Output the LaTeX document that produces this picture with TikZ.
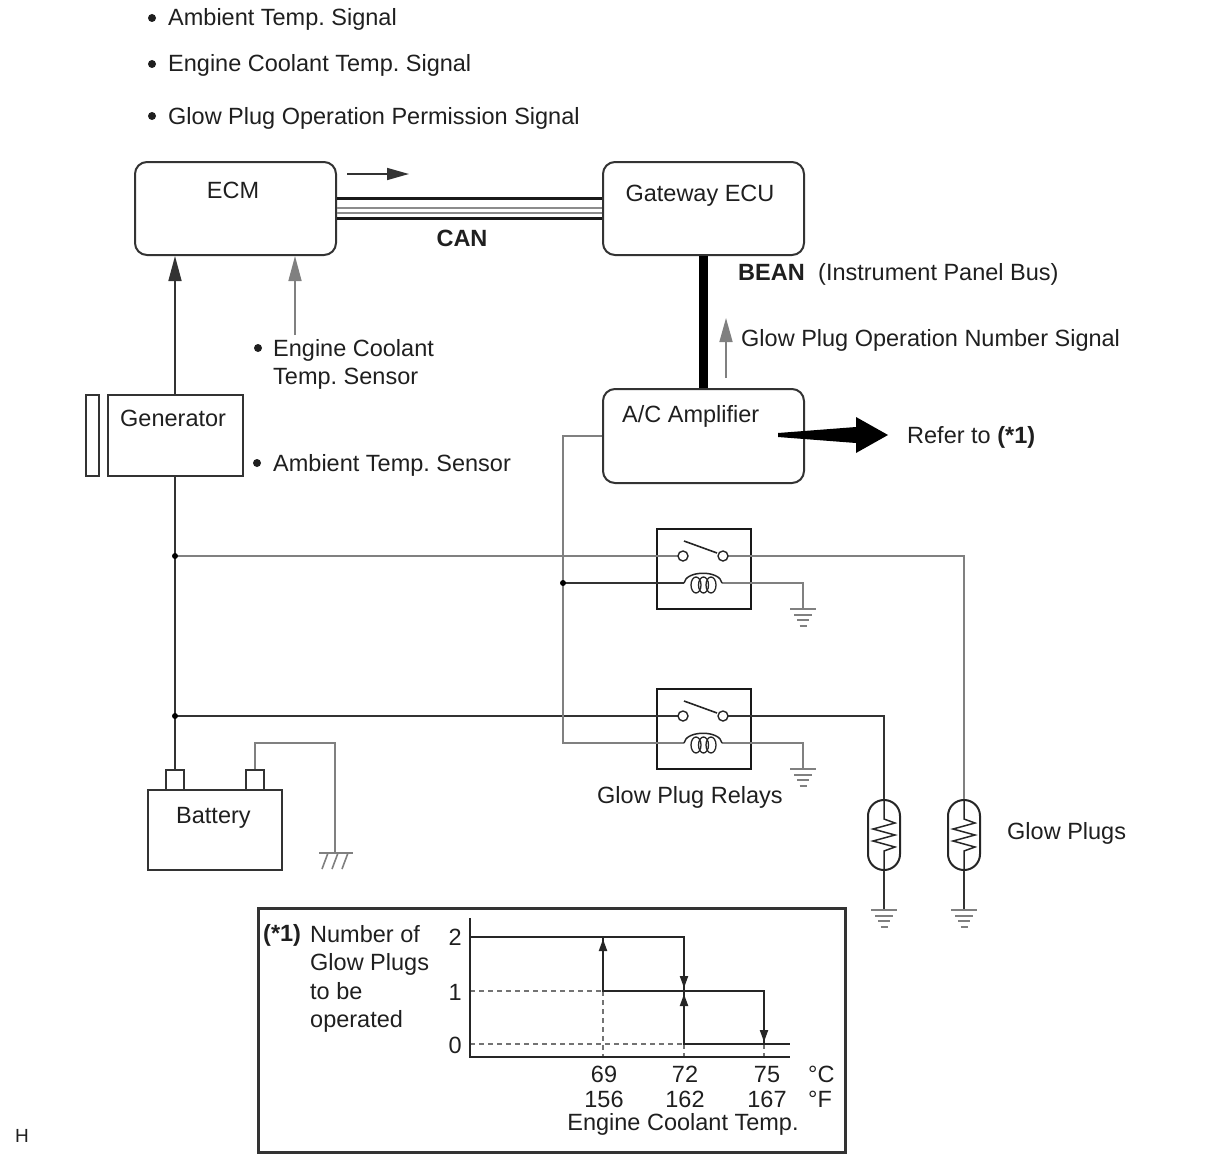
\documentclass[tikz,border=0pt]{standalone}
\usepackage{fontspec}
\setmainfont{Liberation Sans}
\usetikzlibrary{arrows.meta}
\frenchspacing
\begin{document}
\begin{tikzpicture}[x=1pt,y=-1pt,
  txt/.style={font=\fontsize{23.5}{27}\selectfont, inner sep=0pt, text=black!88},
  ecubox/.style={draw=black!80, line width=2pt, rounded corners=12pt, inner sep=0pt},
  plainbox/.style={draw=black!80, line width=2pt, inner sep=0pt, fill=white},
  relaybox/.style={draw=black!90, line width=2.5pt, minimum width=94pt, minimum height=80pt, inner sep=0pt},
  plugbox/.style={draw=black!85, line width=2pt, minimum width=32pt, minimum height=70pt, rounded corners=15.9pt, inner sep=0pt},
  dwire/.style={draw=black!80, line width=1.6pt},
  gwire/.style={draw=black!50, line width=1.6pt},
  bigtip/.style={-{Triangle[length=25pt,width=13pt]}},
  smalltip/.style={-{Triangle[length=12pt,width=8pt]}},
  contact/.style={circle, draw=black!85, line width=1.4pt, fill=white, minimum size=10pt, inner sep=0pt},
  jdot/.style={circle, fill=black, minimum size=6pt, inner sep=0pt},
  bul/.style={circle, fill=black!88, minimum size=8pt, inner sep=0pt},
  dsh/.style={draw=black!55, line width=1.2pt, dash pattern=on 5pt off 4pt},
  chartline/.style={draw=black!85, line width=2pt},
  gnd/.pic={
    \draw[gwire] (-13,0) -- (13,0);
    \draw[gwire] (-9,6) -- (9,6);
    \draw[gwire] (-6,11) -- (6,11);
    \draw[gwire] (-3.5,17) -- (3.5,17);
  }
]
\useasboundingbox (0,0) rectangle (1210,1156);

% ---------- top signal list ----------
\node[bul] (b1) at (152,18) {};
\node[txt, anchor=base west] (s1) at (168,26) {Ambient Temp. Signal};
\node[bul] (b2) at (152,64) {};
\node[txt, anchor=base west] (s2) at (168,72) {Engine Coolant Temp. Signal};
\node[bul] (b3) at (152,116) {};
\node[txt, anchor=base west] (s3) at (168,124) {Glow Plug Operation Permission Signal};

% ---------- ECUs ----------
\node[ecubox, minimum width=201pt, minimum height=93pt] (ecm) at (235.5,208.5) {};
\node[txt, anchor=base] (ecmt) at (233,198) {ECM};
\node[ecubox, minimum width=201pt, minimum height=93pt] (gw) at (703.5,208.5) {};
\node[txt, anchor=base] (gwt) at (700,201) {Gateway ECU};
\node[ecubox, minimum width=201pt, minimum height=94pt] (amp) at (703.5,436) {};
\node[txt, anchor=base west] (ampt) at (622,422) {A/C Amplifier};

% CAN bus
\draw[line width=3pt, black!90] ([yshift=10.5pt]ecm.east) -- ([yshift=10.5pt]gw.west);
\draw[line width=2pt, black!45] ([yshift=0.5pt]ecm.east) -- ([yshift=0.5pt]gw.west);
\draw[line width=2pt, black!45] ([yshift=-4.5pt]ecm.east) -- ([yshift=-4.5pt]gw.west);
\draw[line width=3pt, black!90] ([yshift=-9.5pt]ecm.east) -- ([yshift=-9.5pt]gw.west);
\coordinate (cana) at (347,174);
\coordinate (canb) at (409,174);
\draw[dwire, -{Triangle[length=22pt,width=12pt]}] (cana) -- (canb);
\node[txt, anchor=base, font=\fontsize{23.5}{27}\selectfont\bfseries] (cant) at (462,246) {CAN};

% BEAN
\draw[line width=9pt, black] (gw.south) -- (amp.north);
\node[txt, anchor=base west, font=\fontsize{23.5}{27}\selectfont\bfseries] (beant) at (738,280) {BEAN};
\node[txt, anchor=base west] (ipbt) at (818,280) {(Instrument Panel Bus)};
\coordinate (gpa) at (726,378);
\coordinate (gpb) at (726,318);
\draw[gwire, -{Triangle[length=24pt,width=13pt]}] (gpa) -- (gpb);
\node[txt, anchor=base west] (gpnt) at (741,346) {Glow Plug Operation Number Signal};

% Refer to arrow
\fill[black] (778,433) -- (856,427) -- (856,417) -- (888,435) -- (856,453) -- (856,443) -- (778,437) -- cycle;
\node[txt, anchor=base west] (reft) at (907,443) {Refer to \textbf{(*1)}};

% ---------- sensors / generator ----------
\node[plainbox, minimum width=135pt, minimum height=81pt] (gen) at (175,435.5) {};
\node[plainbox, minimum width=13pt, minimum height=81pt] (genbar) at (92.5,435.5) {};
\node[txt, anchor=base west] (gent) at (120,426) {Generator};
\draw[dwire, bigtip] (gen.north) -- (gen.north |- ecm.south);
\coordinate (ect) at (295,335);
\draw[gwire, bigtip] (ect) -- (ect |- ecm.south);
\node[bul] (b4) at (258,348) {};
\node[txt, anchor=base west] (ectt1) at (273,356) {Engine Coolant};
\node[txt, anchor=base west] (ectt2) at (273,384) {Temp. Sensor};
\node[bul] (b5) at (257,463) {};
\node[txt, anchor=base west] (atst) at (273,471) {Ambient Temp. Sensor};

% ---------- battery ----------
\node[plainbox, minimum width=134pt, minimum height=80pt] (bat) at (215,830) {};
\node[plainbox, minimum width=18pt, minimum height=20pt] (bt1) at (175,780) {};
\node[plainbox, minimum width=18pt, minimum height=20pt] (bt2) at (255,780) {};
\node[txt, anchor=base west] (batt) at (176,823) {Battery};

\coordinate (j1) at (175,556);
\coordinate (j2) at (175,716);
\coordinate (j3) at (563,583);
\draw[dwire] (gen.south) -- (bt1.north);

\coordinate (bg1) at (335,743);
\coordinate (cg) at (335,853);
\draw[gwire] (bt2.north) |- (bg1) -- (cg);
\coordinate (cgl) at (319,853);
\coordinate (cgr) at (353,853);
\draw[gwire] (cgl) -- (cgr);
\draw[gwire] (328,853) -- (322,869) (338,853) -- (332,869) (348,853) -- (342,869);

% ---------- relays ----------
\node[relaybox] (r1) at (704,569) {};
\node[relaybox] (r2) at (704,729) {};
\coordinate (r1a) at (683,556);
\coordinate (r1b) at (723,556);
\coordinate (r1c) at (684,583);
\coordinate (r1d) at (722,583);
\coordinate (r2a) at (683,716);
\coordinate (r2b) at (723,716);
\coordinate (r2c) at (684,743);
\coordinate (r2d) at (722,743);

\coordinate (g1) at (803,609);
\coordinate (g2) at (803,769);

\node[plugbox] (gp1) at (884,835) {};
\node[plugbox] (gp2) at (964,835) {};
\coordinate (gg1) at (884,910);
\coordinate (gg2) at (964,910);

% wires
\draw[gwire] (j1) -- (r1a);
\draw[gwire] (r1b) -| (gp2.north);
\draw[dwire] (j2) -- (r2a);
\draw[dwire] (r2b) -| (gp1.north);
\draw[gwire] (amp.west) -| (j3) |- (r2c);
\draw[dwire] (j3) -- (r1c);
\draw[gwire] (r1d) -| (g1);
\draw[gwire] (r2d) -| (g2);
\draw[dwire] (gp1.south) -- (gg1);
\draw[dwire] (gp2.south) -- (gg2);
\pic at (g1) {gnd};
\pic at (g2) {gnd};
\pic at (gg1) {gnd};
\pic at (gg2) {gnd};

% relay internals
\foreach \r/\y in {r1/556, r2/716}{
  \draw[black!85, line width=1.6pt] (684,\y-15) -- (717,\y-3);
}
\node[contact] (r1ac) at (r1a) {};
\node[contact] (r1bc) at (r1b) {};
\node[contact] (r2ac) at (r2a) {};
\node[contact] (r2bc) at (r2b) {};
\foreach \p/\y in {r1/583, r2/743}{
  \draw[black!85, line width=1.5pt] (684,\y) .. controls (686,\y-13) and (720,\y-13) .. (722,\y);
  \draw[black!85, line width=1.3pt] (696,\y+2) ellipse [x radius=5, y radius=8];
  \draw[black!85, line width=1.3pt] (703.5,\y+2) ellipse [x radius=5, y radius=8];
  \draw[black!85, line width=1.3pt] (711,\y+2) ellipse [x radius=5, y radius=8];
}
\node[txt, anchor=base west] (gprt) at (597,803) {Glow Plug Relays};

% glow plug internals
\foreach \x in {884,964}{
  \draw[black!85, line width=1.5pt] (\x,800) -- (\x,819) -- (\x+11,823) -- (\x-11,829) -- (\x+11,835) -- (\x-11,841) -- (\x+11,847) -- (\x,851) -- (\x,870);
}
\node[txt, anchor=base west] (gplt) at (1007,839) {Glow Plugs};

% junction dots
\node[jdot] (jd1) at (j1) {};
\node[jdot] (jd2) at (j2) {};
\node[jdot] (jd3) at (j3) {};

% ---------- chart ----------
\node[draw=black!80, line width=3pt, minimum width=587pt, minimum height=244pt, inner sep=0pt] (chart) at (551.5,1030) {};
\node[txt, anchor=base west, font=\fontsize{23.5}{27}\selectfont\bfseries] (c1) at (263,941) {(*1)};
\node[txt, anchor=base west] (c2) at (310,942) {Number of};
\node[txt, anchor=base west] (c3) at (310,970) {Glow Plugs};
\node[txt, anchor=base west] (c4) at (310,999) {to be};
\node[txt, anchor=base west] (c5) at (310,1027) {operated};

\draw[dsh] (470,991) -- (603,991);
\draw[dsh] (470,1044) -- (684,1044);
\draw[dsh] (603,991) -- (603,1057);
\draw[dsh] (684,1044) -- (684,1057);
\draw[dsh] (764,1044) -- (764,1057);

\draw[chartline] (470,918) -- (470,1057) -- (790,1057);
\draw[chartline] (470,937) -- (684,937) -- (684,1044) -- (790,1044);
\draw[chartline] (603,937) -- (603,991) -- (764,991) -- (764,1044);
\draw[chartline, smalltip] (603,968) -- (603,939);
\draw[chartline, smalltip] (684,958) -- (684,988);
\draw[chartline, smalltip] (684,1022) -- (684,994);
\draw[chartline, smalltip] (764,1012) -- (764,1042);

\node[txt, anchor=base east] (y2) at (462,945) {2};
\node[txt, anchor=base east] (y1) at (462,1000) {1};
\node[txt, anchor=base east] (y0) at (462,1053) {0};
\node[txt, anchor=base] (x1) at (604,1082) {69};
\node[txt, anchor=base] (x2) at (685,1082) {72};
\node[txt, anchor=base] (x3) at (767,1082) {75};
\node[txt, anchor=base west] (xc) at (808,1082) {°C};
\node[txt, anchor=base] (f1) at (604,1107) {156};
\node[txt, anchor=base] (f2) at (685,1107) {162};
\node[txt, anchor=base] (f3) at (767,1107) {167};
\node[txt, anchor=base west] (xf) at (808,1107) {°F};
\node[txt, anchor=base] (xl) at (683,1130) {Engine Coolant Temp.};

\node[txt, anchor=base west, font=\fontsize{19}{21}\selectfont] (hh) at (15,1142) {H};
\end{tikzpicture}
\end{document}
